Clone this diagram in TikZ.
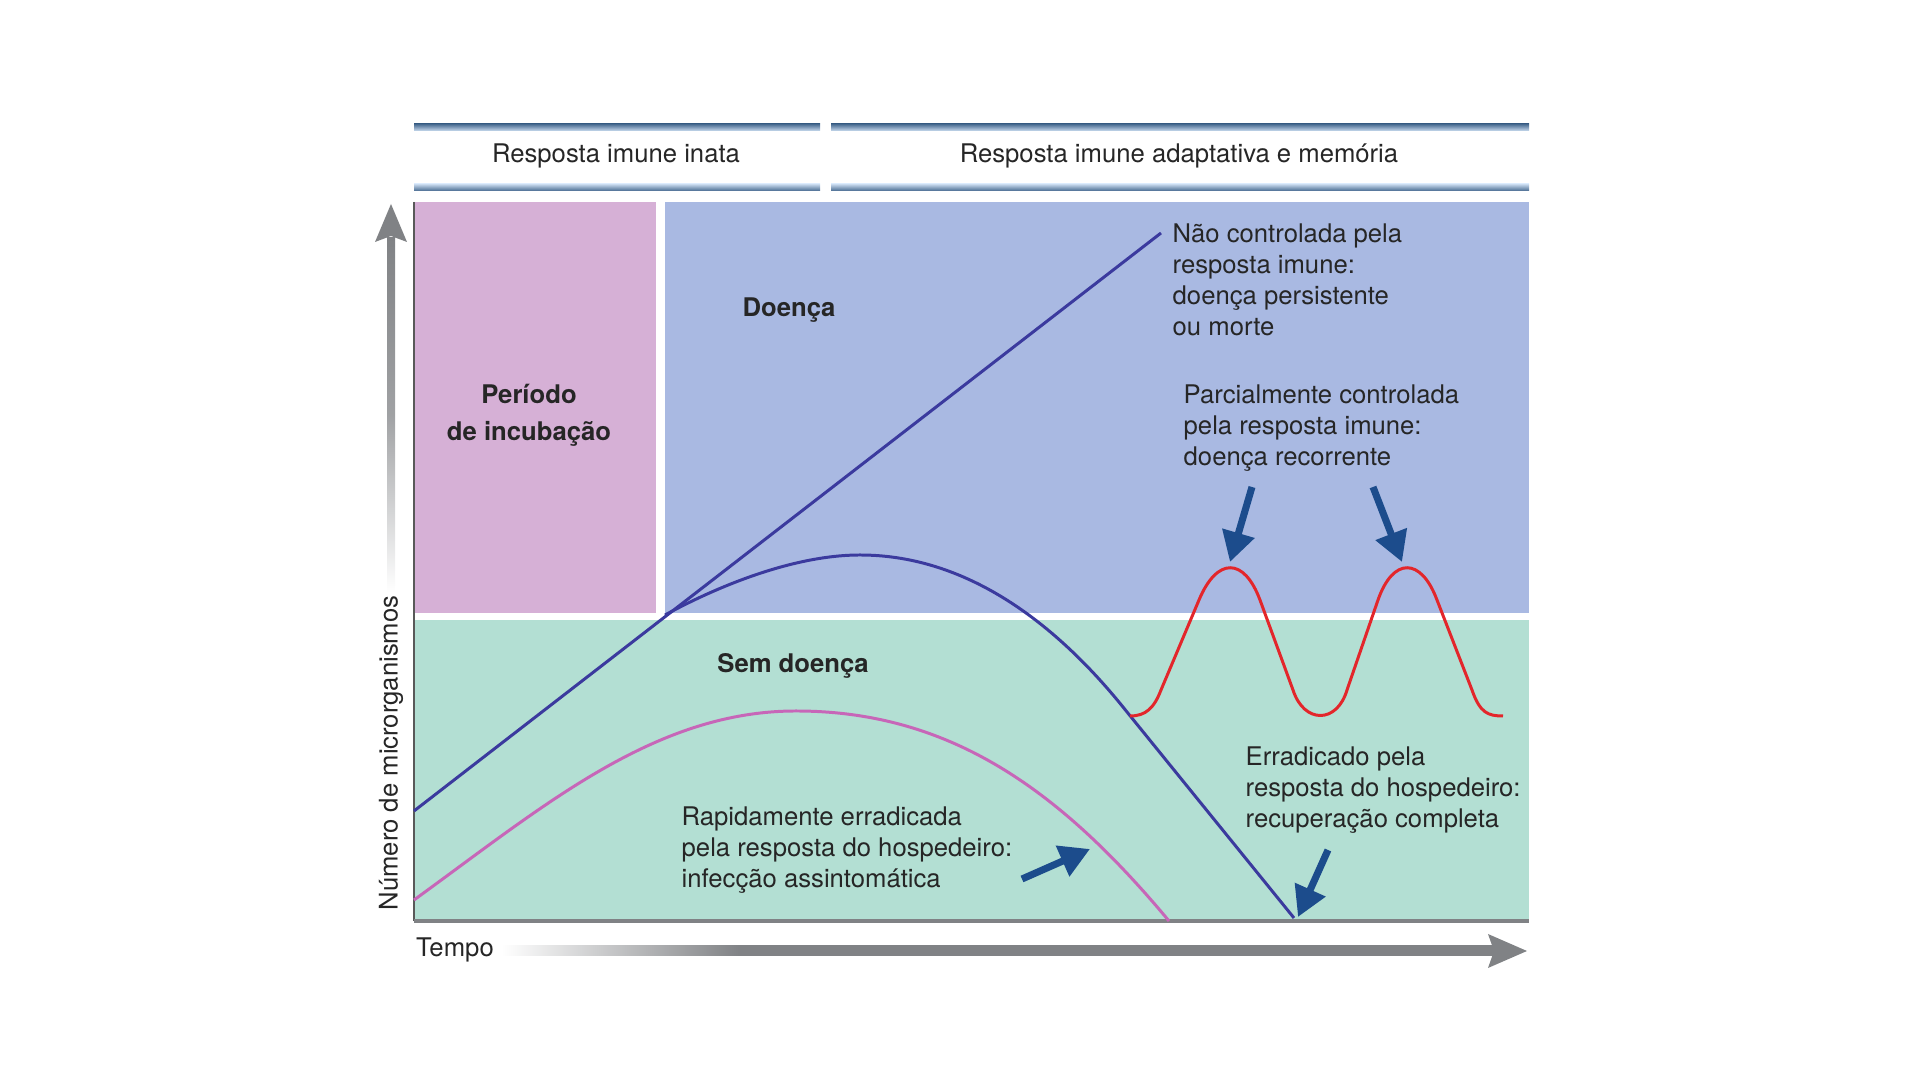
\documentclass[tikz,border=0pt]{standalone}
\usepackage{fontspec}
\setmainfont{TeX Gyre Heros}
\usepackage{tikz}
\usetikzlibrary{arrows.meta,positioning}
\definecolor{pinkzone}{HTML}{D6B0D6}
\definecolor{bluezone}{HTML}{A9B9E2}
\definecolor{greenzone}{HTML}{B3DFD3}
\definecolor{curveblue}{HTML}{3B3A9E}
\definecolor{curvepink}{HTML}{C766B8}
\definecolor{curvered}{HTML}{E3262B}
\definecolor{arrowblue}{HTML}{1C4C8C}
\definecolor{axisgray}{HTML}{808285}
\definecolor{hdrdark}{HTML}{46698F}
\definecolor{hdrlight}{HTML}{CADCF0}
\definecolor{txt}{HTML}{262626}
\pgfdeclarehorizontalshading{timefade}{100bp}{color(0bp)=(white); color(25bp)=(white); color(37bp)=(axisgray); color(100bp)=(axisgray)}
\pgfdeclareverticalshading{countfade}{100bp}{color(0bp)=(white); color(25bp)=(white); color(50bp)=(axisgray!75); color(75bp)=(axisgray); color(100bp)=(axisgray)}

\begin{document}
\begin{tikzpicture}[x=0.01cm, y=-0.01cm,
    every node/.style={font=\fontsize{7.3}{8.8}\selectfont, text=txt, inner sep=0pt},
    note/.style={align=left, anchor=west},
    zonetitle/.style={font=\fontsize{7.3}{10.5}\selectfont\bfseries, align=center},
    curve/.style={line width=0.85pt},
    pointer/.style={-{Triangle[length=0.3cm, width=0.32cm]}, line width=2pt, arrowblue}
  ]
  \useasboundingbox (0,0) rectangle (1920,1080);
  \foreach \xa/\xb in {414/820, 831/1529}{
    \shade[top color=hdrdark, bottom color=hdrlight] (\xa,124) rectangle (\xb,131);
    \shade[top color=hdrlight, bottom color=hdrdark] (\xa,184) rectangle (\xb,191);
  }
  \node (innate) at (616,156) {Resposta imune inata};
  \node (adaptive) at (1179,156) {Resposta imune adaptativa e memória};

  \fill[pinkzone] (414,202) rectangle (656,613);
  \fill[bluezone] (665,202) rectangle (1529,613);
  \fill[greenzone] (414,620) rectangle (1529,921);
  \draw[black!65, line width=0.5pt] (414,202) -- (414,921);
  \draw[axisgray, line width=1pt] (414,921) -- (1529,921);

  \node[zonetitle] (incub) at (529,415) {Período\\de incubação};
  \node[zonetitle] (disease) at (789,310) {Doença};
  \node[zonetitle] (healthy) at (793,666) {Sem doença};

  \draw[curve, curvepink] (414,900) .. controls (545,805) and (655,711) .. (796,711)
    .. controls (950,711) and (1060,790) .. (1169,921);
  \draw[curve, curveblue] (414,811) -- (1161,233);
  \draw[curve, curveblue] (665,615) .. controls (720,585) and (795,555) .. (860,555)
    .. controls (960,555) and (1050,615) .. (1127,712) -- (1294,918);
  \draw[curve, curvered] (1130,716) .. controls (1146,716) and (1154,708) .. (1161,690) -- (1199,600)
    .. controls (1217,557) and (1244,557) .. (1260,600) -- (1293,690)
    .. controls (1304,724) and (1337,724) .. (1347,690) -- (1378,600)
    .. controls (1393,557) and (1421,557) .. (1437,600) -- (1472,690)
    .. controls (1480,713) and (1488,716) .. (1503,716);

  \node[note] (uncontrolled) at (1172,280) {Não controlada pela\\resposta imune:\\doença persistente\\ou morte};
  \node[note] (partial) at (1183,428) {Parcialmente controlada\\pela resposta imune:\\doença recorrente};
  \node[note] (cleared) at (1245,790) {Erradicado pela\\resposta do hospedeiro:\\recuperação completa};
  \node[note] (fast) at (681,850) {Rapidamente erradicada\\pela resposta do hospedeiro:\\infecção assintomática};

  \foreach \name/\xt/\yt/\xh/\yh in {
    peakA/1252/487/1230/562,
    peakB/1373/487/1402/562,
    zero/1328/850/1298/917,
    drop/1022/879/1090/849
  }{
    \coordinate (\name-tail) at (\xt,\yt);
    \coordinate (\name-tip) at (\xh,\yh);
    \draw[pointer] (\name-tail) -- (\name-tip);
  }

  \shade[shading=countfade] (387,238) rectangle (395,592);
  \fill[axisgray] (391,204) -- (407,242) -- (391,236) -- (375,242) -- cycle;
  \node[rotate=90] (ylabel) at (391,753) {Número de microrganismos};

  \node (tempo) at (455,950) {Tempo};
  \shade[shading=timefade] (502,946) rectangle (1495,956);
  \fill[axisgray] (1527,951) -- (1488,934) -- (1494,951) -- (1488,968) -- cycle;
\end{tikzpicture}
\end{document}
